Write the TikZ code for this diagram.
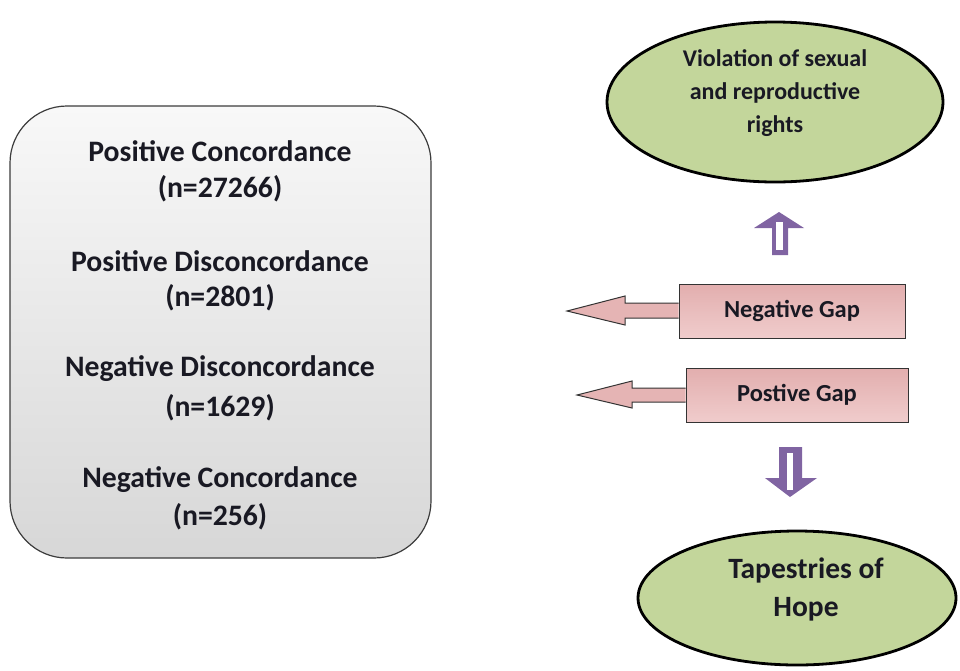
\documentclass[tikz,border=0pt]{standalone}
\usepackage{fontspec}
\setmainfont{Carlito}
\usetikzlibrary{shapes.geometric,calc}
\definecolor{olivefill}{RGB}{195,214,155}
\definecolor{pinktop}{RGB}{226,174,174}
\definecolor{pinkbot}{RGB}{240,204,204}
\definecolor{arrowpurple}{RGB}{128,100,162}
\definecolor{boxtop}{RGB}{248,248,248}
\definecolor{boxbot}{RGB}{215,215,215}
\definecolor{boxline}{RGB}{60,60,60}
\definecolor{txt}{RGB}{25,25,35}
\tikzset{
  bigtext/.style={font=\bfseries\fontsize{29.7}{36}\selectfont, text=txt, align=center},
  oval/.style={ellipse, draw=black, line width=2.8pt, fill=olivefill, inner sep=0pt},
  gapbox/.style={draw=black!80, line width=1pt, top color=pinktop, bottom color=pinkbot, inner sep=0pt,
    text=txt, font=\bfseries\fontsize{24.5}{28}\selectfont},
  gaparrow/.style={draw=black!80, line width=1pt, fill=pinktop!80!pinkbot},
  blockarrow/.style={fill=arrowpurple, draw=none}
}
\begin{document}
\begin{tikzpicture}[x=1pt,y=-1pt]
\useasboundingbox (0,0) rectangle (960,670);
% left rounded box
\draw[boxline, line width=1.2pt, top color=boxtop, bottom color=boxbot, rounded corners=57pt]
  (10,106) rectangle (431,558);
\node[bigtext] (pc) at (220,151) {Positive Concordance};
\node[bigtext] (pcn) at (220,189) {(n=27266)};
\node[bigtext] (pd) at (220,261) {Positive Disconcordance};
\node[bigtext] (pdn) at (220,298) {(n=2801)};
\node[bigtext] (nd) at (220,369) {Negative Disconcordance};
\node[bigtext] (ndn) at (220,408) {(n=1629)};
\node[bigtext] (nc) at (220,480) {Negative Concordance};
\node[bigtext] (ncn) at (220,517) {(n=256)};

% ellipses
\node[oval, minimum width=336pt, minimum height=160pt] (viol) at (775,102) {};
\node[font=\bfseries\fontsize{24}{33}\selectfont, align=center, text=txt] (violt) at (775,93)
  {Violation of sexual\\and reproductive\\rights};
\node[oval, minimum width=318pt, minimum height=134pt] (hope) at (797,598) {};
\node[font=\bfseries\fontsize{29.5}{38}\selectfont, align=center, text=txt] (hopet) at (806,589)
  {Tapestries of\\Hope};

% gap boxes
\node[gapbox, minimum width=226pt, minimum height=54pt] (neg) at (792,311) {Negative Gap};
\node[gapbox, minimum width=222pt, minimum height=54pt] (pos) at (797,395) {Postive Gap};

\draw[gaparrow] ($(neg.west)+(0,-8)$) -- (625,303) -- (625,296) -- (567,311) -- (625,325) -- (625,318) -- ($(neg.west)+(0,7)$);
\draw[gaparrow] ($(pos.west)+(0,-7)$) -- (632,388) -- (632,381) -- (577,395) -- (632,408) -- (632,402) -- ($(pos.west)+(0,7)$);

% purple block arrows
\fill[blockarrow] (772,255) -- (772,228) -- (754,228) -- (779,212) -- (804,228) -- (788,228) -- (788,255) -- cycle;
\fill[white] (776,222) rectangle (783,250);
\fill[blockarrow] (779,447) -- (802,447) -- (802,478) -- (817,478) -- (790,497) -- (765,478) -- (779,478) -- cycle;
\fill[white] (787,453) rectangle (793,490);
\end{tikzpicture}
\end{document}
